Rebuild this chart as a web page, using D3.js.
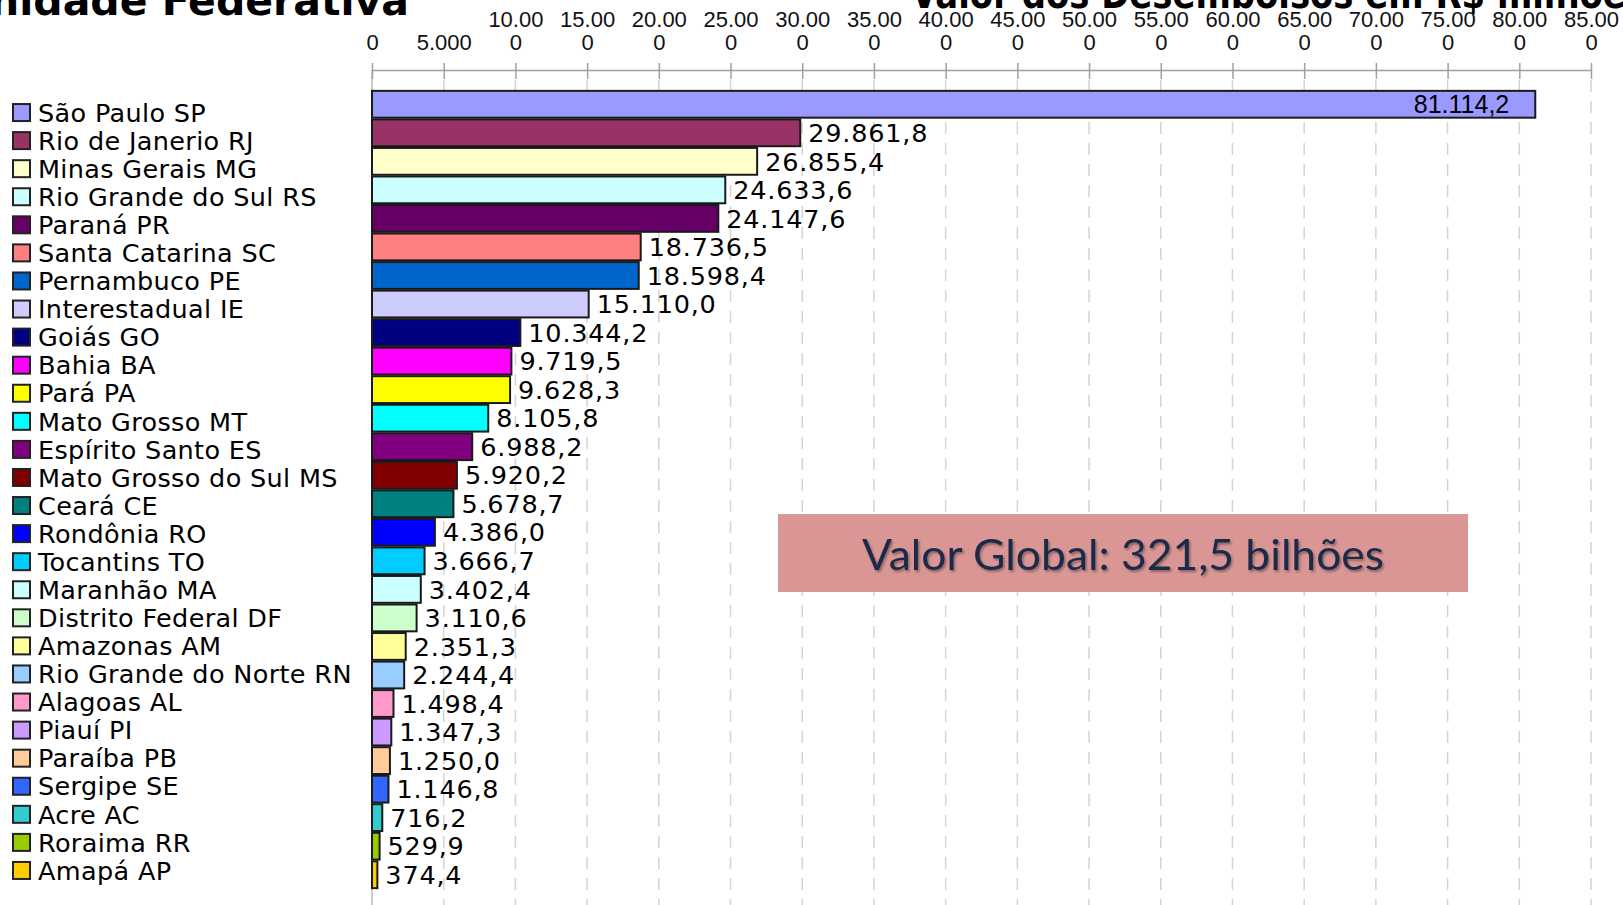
<!DOCTYPE html>
<html>
<head>
<meta charset="utf-8">
<script src="https://cdn.jsdelivr.net/npm/d3@7"></script>
<style>
  body { margin: 0; background: #fff; overflow: hidden; }
  #viewer { width: 1623px; height: 905px; }
</style>
</head>
<body>
<div id="viewer"></div>
<script>
const states = ['São Paulo SP', 'Rio de Janerio RJ', 'Minas Gerais MG', 'Rio Grande do Sul RS', 'Paraná PR',
    'Santa Catarina SC', 'Pernambuco PE', 'Interestadual IE', 'Goiás GO', 'Bahia BA', 'Pará PA',
    'Mato Grosso MT', 'Espírito Santo ES', 'Mato Grosso do Sul MS', 'Ceará CE', 'Rondônia RO',
    'Tocantins TO', 'Maranhão MA', 'Distrito Federal DF', 'Amazonas AM', 'Rio Grande do Norte RN',
    'Alagoas AL', 'Piauí PI', 'Paraíba PB', 'Sergipe SE', 'Acre AC', 'Roraima RR', 'Amapá AP'];

const values = [81114.2, 29861.8, 26855.4, 24633.6, 24147.6, 18736.5, 18598.4, 15110.0, 10344.2,
    9719.5, 9628.3, 8105.8, 6988.2, 5920.2, 5678.7, 4386.0, 3666.7, 3402.4, 3110.6, 2351.3,
    2244.4, 1498.4, 1347.3, 1250.0, 1146.8, 716.2, 529.9, 374.4];

const colors = ['#9999FF', '#993366', '#FFFFCC', '#CCFFFF', '#660066', '#FF8080', '#0066CC', '#CCCCFF',
    '#000080', '#FF00FF', '#FFFF00', '#00FFFF', '#800080', '#800000', '#008080', '#0000FF',
    '#00CCFF', '#CCFFFF', '#CCFFCC', '#FFFF99', '#99CCFF', '#FF99CC', '#CC99FF', '#FFCC99',
    '#3366FF', '#33CCCC', '#99CC00', '#FFCC00'];

const xTicks = [0, 5000, 10000, 15000, 20000, 25000, 30000, 35000, 40000, 45000, 50000,
    55000, 60000, 65000, 70000, 75000, 80000, 85000];

const leftTitle = 'Unidade Federativa';
const rightTitle = 'Valor dos Desembolsos em R$ milhões';
const globalNote = 'Valor Global: 321,5 bilhões';

const br = d3.formatLocale({ decimal: ',', thousands: '.', grouping: [3], currency: ['R$', ''] });
const fmtValue = br.format(',.1f');
const fmtTick = br.format(',');

const width = 1623, height = 905;

const svg = d3.select('#viewer').append('svg')
    .attr('width', width)
    .attr('height', height);

const x = d3.scaleLinear().domain([0, 85000]).range([372, 1591]);
const y = d3.scaleBand().domain(states).range([90, 889]).paddingInner(0.06).paddingOuter(0.03);
const yLegend = d3.scaleBand().domain(states).range([98.5, 884.5]);

// titles (cut by the top edge like in the original slide)
svg.append('text')
    .attr('x', 409).attr('y', 15)
    .attr('text-anchor', 'end')
    .attr('font-family', 'DejaVu Sans')
    .attr('font-weight', 'bold')
    .attr('font-size', 41)
    .text(leftTitle);

svg.append('text')
    .attr('x', 911).attr('y', 8)
    .attr('font-family', 'DejaVu Sans')
    .attr('font-weight', 'bold')
    .attr('font-size', 40)
    .attr('textLength', 735)
    .attr('lengthAdjust', 'spacingAndGlyphs')
    .text(rightTitle);

// dashed grid
svg.append('g').selectAll('line')
    .data(xTicks.filter(d => d > 0))
    .join('line')
    .attr('x1', d => x(d)).attr('x2', d => x(d))
    .attr('y1', 80).attr('y2', height)
    .attr('stroke', '#d4d4d4')
    .attr('stroke-width', 1.5)
    .attr('stroke-dasharray', '12,9');

svg.append('line')
    .attr('x1', x(0)).attr('x2', x(0))
    .attr('y1', 70).attr('y2', height)
    .attr('stroke', '#b8b8b8')
    .attr('stroke-width', 1.5);

// top axis
const axis = svg.append('g')
    .attr('transform', 'translate(0,70)')
    .call(d3.axisTop(x).tickValues(xTicks).tickFormat(fmtTick).tickSizeOuter(0).tickSizeInner(7));

axis.select('.domain').attr('stroke', '#a0a0a0').attr('stroke-width', 1.5);
axis.selectAll('.tick line').attr('stroke', '#a0a0a0').attr('stroke-width', 1.5).attr('y2', 9).attr('y1', -7);

axis.selectAll('.tick text').each(function(d) {
    const t = d3.select(this);
    const s = fmtTick(d);
    t.text(null)
        .attr('y', 0)
        .attr('font-family', '"Liberation Sans Narrow", "Arial Narrow", "Liberation Sans", sans-serif')
        .attr('font-size', 22)
        .attr('fill', '#111');
    if (s.length > 5) {
        t.append('tspan').attr('x', 0).attr('y', -43).text(s.slice(0, -1));
        t.append('tspan').attr('x', 0).attr('y', -20).text(s.slice(-1));
    } else {
        t.append('tspan').attr('x', 0).attr('y', -20).text(s);
    }
});

// bars
svg.append('g').selectAll('rect')
    .data(states)
    .join('rect')
    .attr('x', x(0))
    .attr('y', d => y(d))
    .attr('width', (d, i) => x(values[i]) - x(0))
    .attr('height', y.bandwidth())
    .attr('fill', (d, i) => colors[i])
    .attr('stroke', '#1a1a1a')
    .attr('stroke-width', 2);

// value labels
svg.append('g').selectAll('text')
    .data(states)
    .join('text')
    .attr('x', (d, i) => i === 0 ? x(values[i]) - 26 : x(values[i]) + 8)
    .attr('y', d => y(d) + y.bandwidth() / 2)
    .attr('dy', '0.36em')
    .attr('text-anchor', (d, i) => i === 0 ? 'end' : 'start')
    .attr('font-family', (d, i) => i === 0 ? '"Liberation Sans Narrow", "Arial Narrow", "Liberation Sans", sans-serif' : 'DejaVu Sans')
    .attr('font-size', (d, i) => i === 0 ? 25 : 25.5)
    .attr('letter-spacing', (d, i) => i === 0 ? 0 : 0.8)
    .attr('fill', '#000')
    .text((d, i) => fmtValue(values[i]));

// legend
const legend = svg.append('g').selectAll('g')
    .data(states)
    .join('g')
    .attr('transform', d => `translate(0,${yLegend(d) + yLegend.bandwidth() / 2})`);

legend.append('rect')
    .attr('x', 13).attr('y', -8.5)
    .attr('width', 17).attr('height', 17)
    .attr('fill', (d, i) => colors[i])
    .attr('stroke', '#222')
    .attr('stroke-width', 2);

legend.append('text')
    .attr('x', 38)
    .attr('y', 0)
    .attr('dy', '0.36em')
    .attr('font-family', 'DejaVu Sans')
    .attr('font-size', 25.5)
    .attr('letter-spacing', 0.35)
    .attr('fill', '#000')
    .text(d => d);

// global value box
const defs = svg.append('defs');
defs.append('filter').attr('id', 'shadow')
    .append('feDropShadow')
    .attr('dx', 1.5).attr('dy', 2).attr('stdDeviation', 1.2)
    .attr('flood-color', '#000').attr('flood-opacity', 0.35);

svg.append('rect')
    .attr('x', 778).attr('y', 514)
    .attr('width', 690).attr('height', 78)
    .attr('fill', '#D99694');

svg.append('text')
    .attr('x', 1123).attr('y', 555)
    .attr('dy', '0.35em')
    .attr('text-anchor', 'middle')
    .attr('font-family', 'Lato, "Open Sans", sans-serif')
    .attr('font-size', 43)
    .attr('fill', '#1B2A4A')
    .attr('textLength', 522)
    .attr('lengthAdjust', 'spacingAndGlyphs')
    .attr('filter', 'url(#shadow)')
    .text(globalNote);
</script>
</body>
</html>
